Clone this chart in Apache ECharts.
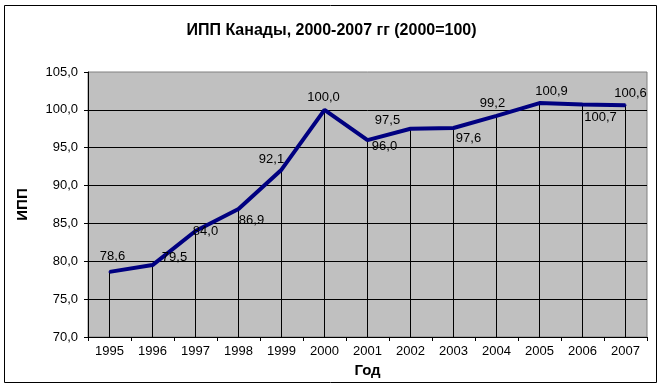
<!DOCTYPE html>
<html><head><meta charset="utf-8">
<script src="https://cdn.jsdelivr.net/npm/echarts@6/dist/echarts.min.js"></script>
<style>html,body{margin:0;padding:0;background:#fff}#c{width:663px;height:389px}</style>
</head><body><div id="c"></div>
<script>
var years = ['1995','1996','1997','1998','1999','2000','2001','2002','2003','2004','2005','2006','2007'];
var ipp = [78.6, 79.5, 84.0, 86.9, 92.1, 100.0, 96.0, 97.5, 97.6, 99.2, 100.9, 100.7, 100.6];
// label offsets (dx, dy) relative to each point
var labelOffsets = [[3,-15],[22,-8],[10,0],[13,11],[-10,-10],[-1,-12],[17,6],[-23,-8],[15,10],[-4,-12],[12,-12],[18,13],[5,-12]];
var yTicks = {min: 70, max: 105, interval: 5};

function fmt(v){ return v.toFixed(1).replace('.', ','); }
var font = '"Liberation Sans", Arial, sans-serif';

var chart = echarts.init(document.getElementById('c'));
chart.setOption({
  animation: false,
  backgroundColor: '#fff',
  title: {text: 'ИПП Канады, 2000-2007 гг (2000=100)', left: 'center', top: 18,
    textStyle: {fontFamily: font, fontSize: 16, fontWeight: 'bold', color: '#000'}},
  grid: {left: 88, right: 16, top: 72, bottom: 52, show: true, backgroundColor: '#C0C0C0', borderColor: '#808080', borderWidth: 1},
  xAxis: {type: 'category', data: years, boundaryGap: true,
    name: 'Год', nameLocation: 'middle', nameGap: 23,
    nameTextStyle: {fontFamily: font, fontSize: 15, fontWeight: 'bold', color: '#000', verticalAlign: 'top'},
    axisLine: {lineStyle: {color: '#000', width: 1}},
    axisTick: {show: true, length: 4, interval: 0, lineStyle: {color: '#000'}},
    axisLabel: {interval: 0, margin: 8, fontFamily: font, fontSize: 13, color: '#000'},
    splitLine: {show: false}},
  yAxis: {type: 'value', min: yTicks.min, max: yTicks.max, interval: yTicks.interval,
    name: 'ИПП', nameLocation: 'middle', nameGap: 58, nameRotate: 90,
    nameTextStyle: {fontFamily: font, fontSize: 15, fontWeight: 'bold', color: '#000'},
    axisLine: {show: true, lineStyle: {color: '#000', width: 1}},
    axisTick: {show: true, length: 4, lineStyle: {color: '#000'}},
    axisLabel: {margin: 10, fontFamily: font, fontSize: 13, color: '#000', formatter: function(v){return fmt(v);}},
    splitLine: {show: true, showMaxLine: false, lineStyle: {color: '#000', width: 1}}},
  series: [
    {type: 'bar', data: ipp, barWidth: 1, itemStyle: {color: '#000'}, silent: true, z: 1},
    {type: 'line', data: ipp, showSymbol: true, symbol: 'circle', symbolSize: 2,
      lineStyle: {color: '#000080', width: 4}, itemStyle: {color: '#000080'},
      label: {show: true, position: 'inside', fontFamily: font, fontSize: 13, color: '#000', align: 'center', verticalAlign: 'middle',
        formatter: function(p){ return fmt(p.value); }},
      labelLayout: function(p){
        var o = labelOffsets[p.dataIndex] || [0,0];
        return {dx: o[0], dy: o[1], hideOverlap: false};
      },
      z: 3}
  ],
  graphic: [{type: 'rect', shape: {x: 4.5, y: 5.5, width: 652, height: 377}, style: {fill: 'none', stroke: '#000', lineWidth: 1}, silent: true}]
});
</script></body></html>
